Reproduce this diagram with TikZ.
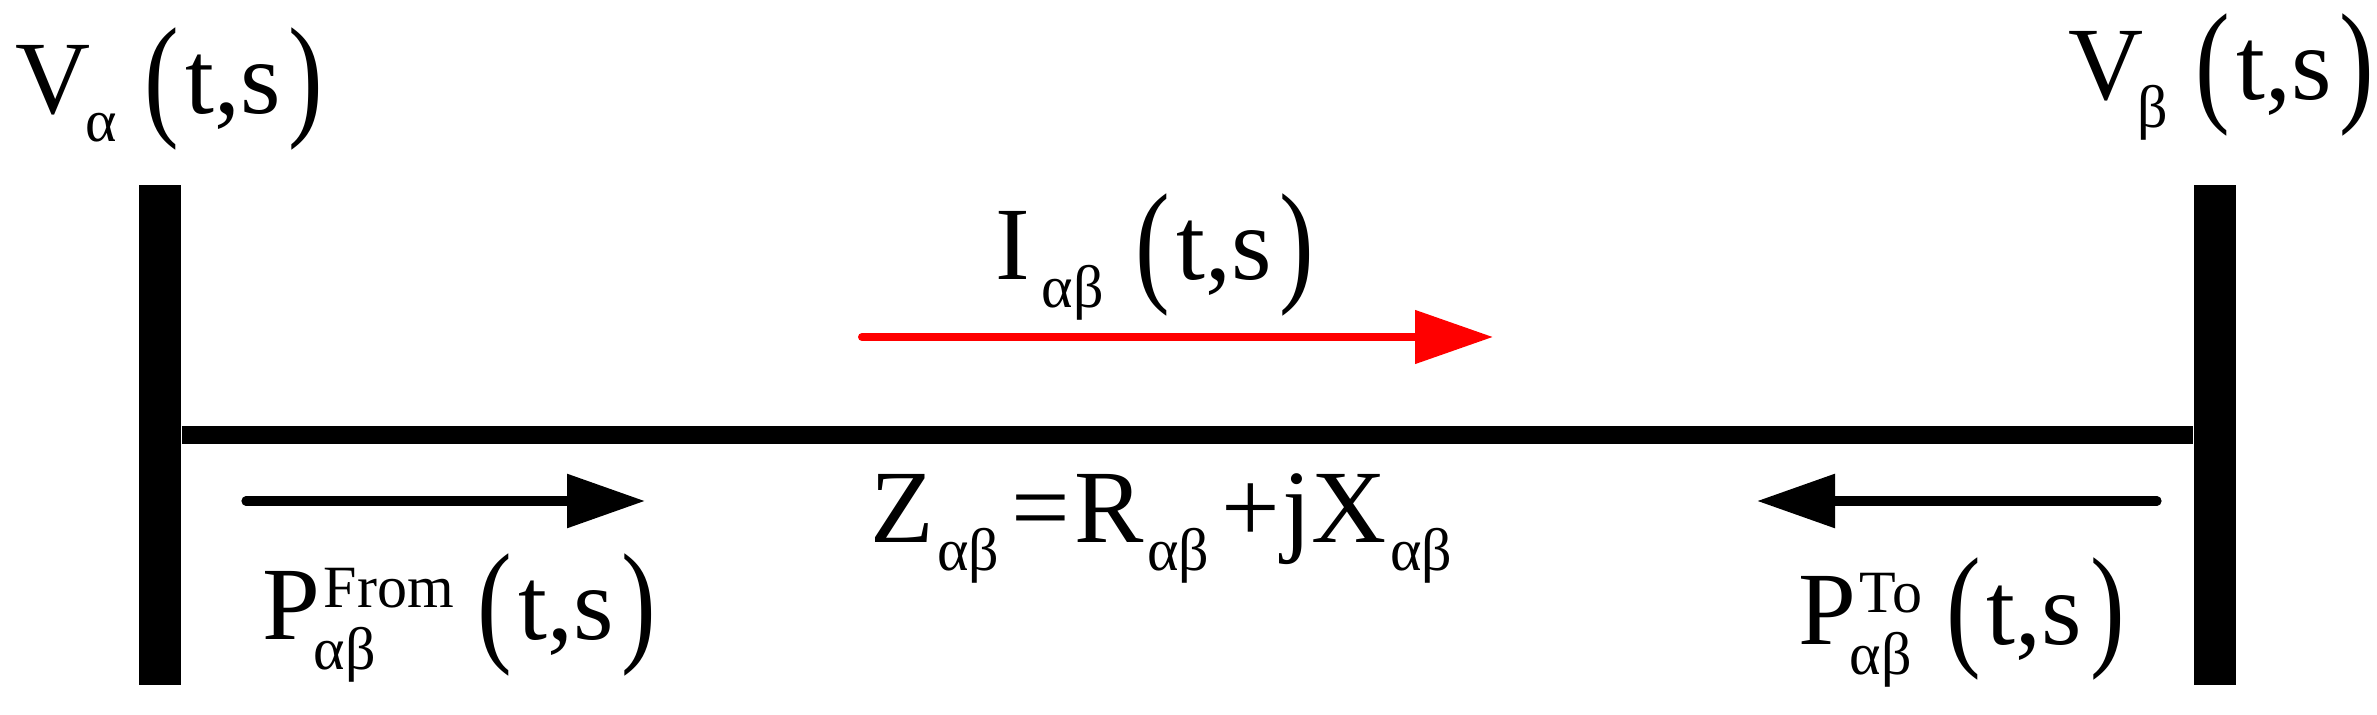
\documentclass[tikz,border=0pt]{standalone}
\usepackage{fontspec}
\setmainfont{Liberation Serif}
\newfontfamily\tnr{Liberation Serif}
\usepackage{graphicx}
\usetikzlibrary{arrows.meta}
\newcommand{\mainsz}{\tnr\fontsize{26}{31}\selectfont}
\newcommand{\smallsz}{\tnr\fontsize{15}{18}\selectfont}
\newcommand{\lpar}{\raisebox{-0.07em}{\scalebox{1}[1.3]{(}}}
\newcommand{\rpar}{\raisebox{-0.07em}{\scalebox{1}[1.3]{)}}}
\newcommand{\lowsub}[1]{\lower7pt\hbox{\smallsz #1}}
\newcommand{\tsarg}{\lpar\kern1.5pt t,s\kern2pt\rpar}
\newcommand{\supsubx}[2]{\setbox0\hbox{\smallsz #1}\setbox2\hbox{\smallsz #2}%
  \ifdim\wd0>\wd2 \dimen0=\wd0 \else \dimen0=\wd2 \fi
  \rlap{\kern1pt\raise8pt\box0}\rlap{\kern-1.5pt\lower7.5pt\box2}\kern\dimen0 }
\tikzset{
  txt/.style={anchor=base west, inner sep=0pt, outer sep=0pt, font=\mainsz},
  busbar/.style={draw=none, fill=black, rectangle, inner sep=0pt, minimum width=10.5pt, minimum height=125pt},
  busline/.style={line width=4.5pt},
  flowarrow/.style={line width=2.3pt, line cap=round, -{Triangle[length=19.5pt, width=13pt]}},
  curarrow/.style={line width=2pt, line cap=round, red, -{Triangle[length=19.5pt, width=13pt]}}
}
\begin{document}
\begin{tikzpicture}[x=0.25pt, y=-0.25pt]
\useasboundingbox (0,0) rectangle (2377,715);
% bus bars
\node[busbar] (barA) at (160,435) {};
\node[busbar] (barB) at (2215,435) {};
% line
\draw[busline] (barA.east) -- (barB.west);
% arrows
\coordinate (cs) at (862,337);
\coordinate (ce) at (1493,337);
\draw[curarrow] (cs) -- (ce);
\coordinate (fs) at (246,501);
\coordinate (fe) at (645,501);
\draw[flowarrow] (fs) -- (fe);
\coordinate (ts) at (2157,501);
\coordinate (te) at (1757,501);
\draw[flowarrow] (ts) -- (te);
% labels
\node[txt] (va) at (16,114) {V\kern-1.5pt\lowsub{α}\kern7pt\tsarg};
\node[txt] (vb) at (2068,100) {V\kern-1.5pt\lowsub{β}\kern7pt\tsarg};
\node[txt] (ia) at (995,280) {I\kern3pt\lowsub{αβ}\kern8pt\tsarg};
\node[txt] (za) at (870,542) {Z\kern1pt\lowsub{αβ}\kern3pt=\kern1pt R\kern1pt\lowsub{αβ}\kern3pt+\kern0.5pt jX\kern1pt\lowsub{αβ}};
\node[txt] (pf) at (262,640) {P\supsubx{From}{αβ}\kern7pt\tsarg};
\node[txt] (pt) at (1798,644) {P\supsubx{To}{αβ}\kern7pt\tsarg};
\end{tikzpicture}
\end{document}
